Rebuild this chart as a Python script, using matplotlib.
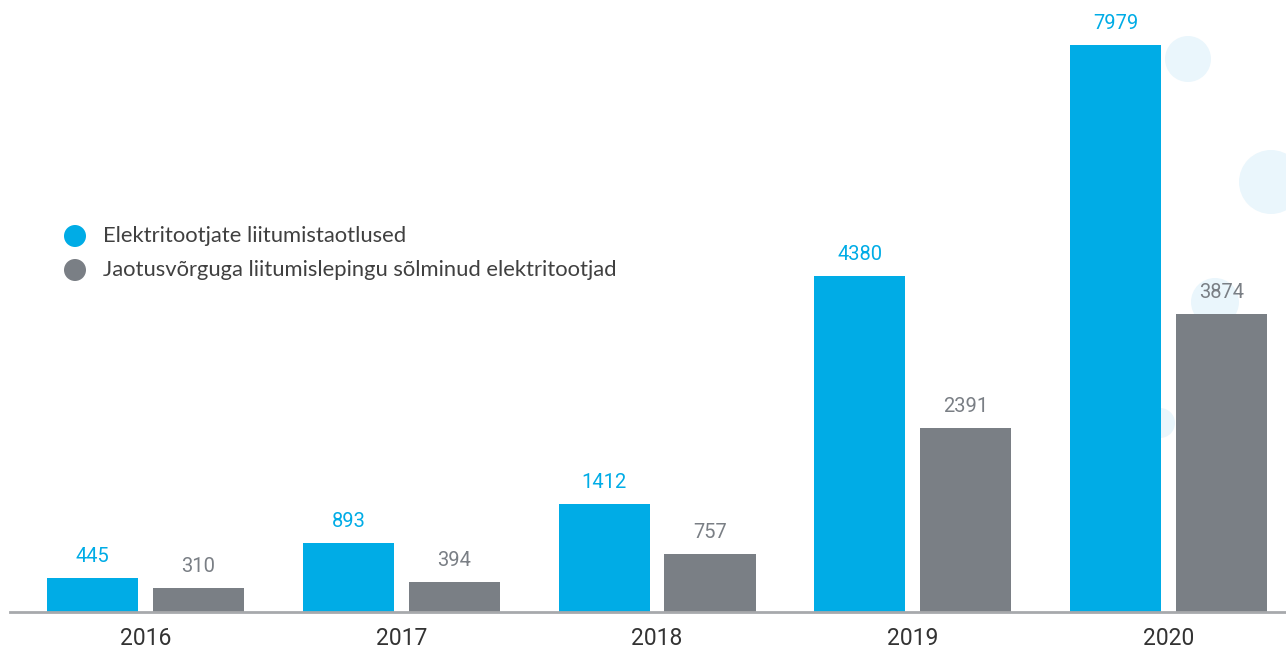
import matplotlib.pyplot as plt
from matplotlib.patches import Circle
import numpy as np

years = ['2016', '2017', '2018', '2019', '2020']
applications = [445, 893, 1412, 4380, 7979]
contracts = [310, 394, 757, 2391, 3874]
series_names = ['Elektritootjate liitumistaotlused',
                'Jaotusvõrguga liitumislepingu sõlminud elektritootjad']

blue = '#00ACE6'
grey = '#7A7F85'

W, H = 1286, 653
fig = plt.figure(figsize=(W / 100, H / 100), dpi=100)

# background layer in pixel units, for the decorative circles and legend dots
bg = fig.add_axes([0, 0, 1, 1], zorder=-1)
bg.set_xlim(0, W)
bg.set_ylim(H, 0)
bg.axis('off')
for cx, cy, r in [(1188, 59, 23), (1271, 182, 32), (1215, 302, 24), (1160, 423, 15)]:
    bg.add_patch(Circle((cx, cy), r, facecolor='#EAF6FC', edgecolor='none'))

ax = fig.add_axes([10 / W, 1 - 612 / H, 1276 / W, 567 / H])
ax.patch.set_alpha(0)
ymax = 7383
ax.set_ylim(0, ymax)
ax.set_xlim(-0.530, 4.459)

x = np.arange(len(years))
w = 0.356
off = 0.207
ax.bar(x - off, applications, w, color=blue, zorder=2)
ax.bar(x + off, contracts, w, color=grey, zorder=2)

pad = 280
for i in range(len(years)):
    ax.text(x[i] - off, min(applications[i], ymax) + pad, str(applications[i]),
            ha='center', va='center', color=blue, fontsize=14.5, family='Roboto',
            clip_on=False)
    ax.text(x[i] + off, contracts[i] + pad, str(contracts[i]),
            ha='center', va='center', color=grey, fontsize=14.5, family='Roboto',
            clip_on=False)

for s in ['top', 'right', 'left']:
    ax.spines[s].set_visible(False)
ax.spines['bottom'].set_color('#A7A9AC')
ax.spines['bottom'].set_linewidth(2)
ax.set_yticks([])
ax.set_xticks(x)
ax.set_xticklabels(years, fontsize=16.5, color='#333333', family='Roboto')
ax.tick_params(axis='x', length=0, pad=11)

# legend
for k, (name, col) in enumerate(zip(series_names, [blue, grey])):
    yy = 236 + 34 * k
    bg.add_patch(Circle((75, yy), 11, facecolor=col, edgecolor='none'))
    bg.text(103, yy, name, ha='left', va='center', fontsize=15.8,
            color='#404040', family='Lato')

fig.savefig('out.png', dpi=100)
